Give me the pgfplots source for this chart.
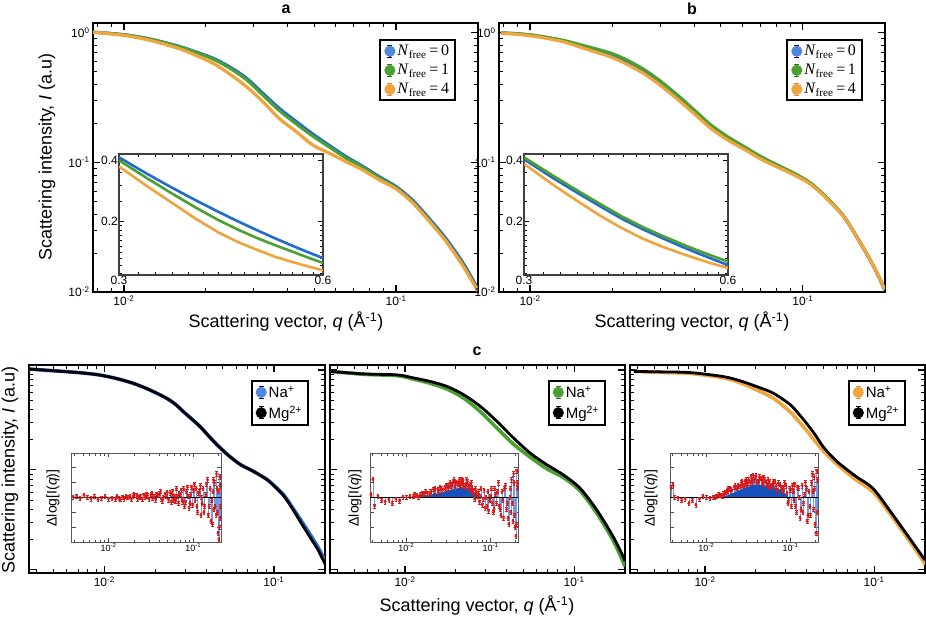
\documentclass[border=0pt]{standalone}
\usepackage{fontspec}
\setmainfont{Liberation Sans}
\newfontfamily\seriffont{Liberation Serif}
\usepackage{pgfplots}
\usepackage{pgfplotstable}
\pgfplotsset{compat=1.18}
\definecolor{cblue}{RGB}{35,105,210}
\definecolor{cgreen}{RGB}{75,160,50}
\definecolor{corange}{RGB}{240,165,60}
\definecolor{cred}{RGB}{220,25,25}
\definecolor{cfill}{RGB}{20,80,190}
\definecolor{ccomb}{RGB}{110,155,225}

\pgfplotstableread{
q r
0.0038 0.02
0.0042 0.05
0.0046 -0.03
0.0051 0.08
0.0056 0.0
0.0062 -0.04
0.0068 0.03
0.0075 -0.06
0.0083 -0.02
0.0091 0.04
0.010 -0.05
0.011 -0.03
0.0121 -0.06
0.0125 0.04
0.0133 -0.02
0.0138 -0.07
0.0147 0.02
0.0152 -0.04
0.0161 0.05
0.0168 0.0
0.0178 0.03
0.0185 -0.05
0.0195 0.06
0.02 0.1
0.0215 0.08
0.022 -0.04
0.023 0.02
0.0237 0.05
0.025 -0.06
0.026 0.09
0.027 0.0
0.028 0.12
0.0287 0.06
0.030 -0.05
0.0316 0.1
0.0325 0.15
0.033 -0.03
0.0348 0.04
0.036 -0.08
0.037 0.12
0.0383 0.08
0.04 0.14
0.041 0.2
0.0421 -0.05
0.043 -0.12
0.044 0.0
0.0464 0.12
0.048 0.05
0.049 0.18
0.051 -0.08
0.053 0.16
0.055 -0.15
0.0562 0.1
0.057 0.22
0.058 -0.1
0.06 0.05
0.0619 -0.12
0.063 0.3
0.065 0.05
0.067 -0.2
0.068 0.15
0.07 0.1
0.072 0.25
0.074 -0.05
0.075 -0.15
0.077 0.3
0.079 -0.3
0.081 -0.15
0.0825 0.2
0.085 0.35
0.087 0.05
0.089 -0.35
0.091 -0.2
0.093 0.1
0.095 0.35
0.098 -0.25
0.1 0.25
0.103 0.45
0.105 -0.1
0.108 0.3
0.11 -0.3
0.112 -0.5
0.115 0.15
0.118 0.2
0.121 0.4
0.123 -0.6
0.125 0.0
0.127 -0.2
0.13 0.3
0.133 -0.5
0.136 -0.3
0.14 0.1
0.143 0.45
0.147 0.6
0.15 -0.6
0.154 -0.3
0.158 0.3
0.161 -0.8
0.165 -0.1
0.168 -0.9
0.17 0.2
0.172 0.6
0.175 -0.4
0.178 0.5
0.181 -0.3
0.186 -0.6
0.188 0.8
0.19 0.3
0.193 -0.5
0.195 -1.2
0.198 0.2
0.2 -1.4
0.203 -1.0
0.205 0.7
0.206 0.4
0.208 -0.7
0.21 -0.3
}\resA

\pgfplotstableread{
q r
0.0038 0.1
0.004 0.6
0.0042 -0.28
0.0046 0.05
0.0051 -0.1
0.0056 -0.15
0.0062 -0.08
0.0068 -0.2
0.0075 -0.05
0.0083 -0.12
0.0091 0.02
0.010 0.0
0.011 0.05
0.0121 0.03
0.0125 0.1
0.0133 0.08
0.014 0.02
0.0147 0.1
0.0155 0.15
0.0161 0.12
0.017 0.2
0.0178 0.15
0.019 0.12
0.0195 0.2
0.021 0.28
0.0215 0.22
0.022 0.3
0.0237 0.28
0.024 0.18
0.025 0.35
0.026 0.3
0.027 0.25
0.0287 0.35
0.029 0.28
0.030 0.42
0.0315 0.3
0.0316 0.42
0.033 0.5
0.034 0.38
0.0348 0.45
0.036 0.55
0.037 0.6
0.038 0.35
0.0383 0.5
0.040 0.48
0.042 0.4
0.0421 0.55
0.043 0.6
0.044 0.42
0.045 0.62
0.0464 0.5
0.047 0.58
0.048 0.4
0.05 0.35
0.051 0.45
0.052 0.6
0.053 0.55
0.055 0.38
0.0562 0.3
0.057 0.25
0.058 0.45
0.059 0.5
0.06 0.3
0.0619 0.15
0.063 0.25
0.065 -0.05
0.066 0.3
0.068 0.15
0.07 0.05
0.072 0.2
0.074 -0.15
0.075 0.05
0.077 0.3
0.08 -0.25
0.0825 -0.05
0.084 0.25
0.086 -0.35
0.088 0.0
0.091 -0.3
0.093 0.2
0.095 -0.45
0.098 -0.1
0.1 0.05
0.102 0.3
0.105 -0.2
0.108 -0.5
0.11 -0.4
0.112 0.3
0.115 0.1
0.118 -0.2
0.121 0.2
0.124 0.5
0.127 -0.3
0.13 -0.4
0.133 -0.6
0.137 0.2
0.14 -0.1
0.143 -0.7
0.147 0.3
0.15 0.4
0.155 -0.4
0.158 -0.2
0.161 -0.7
0.165 -0.9
0.17 0.0
0.172 0.3
0.175 -0.5
0.178 0.6
0.181 -0.2
0.185 -0.8
0.188 0.8
0.19 0.5
0.193 -0.6
0.195 -1.0
0.2 -1.3
0.203 -0.9
0.205 0.9
0.208 0.3
0.21 0.5
}\resB

\pgfplotstableread{
q r
0.0038 0.35
0.004 0.4
0.0042 0.0
0.0046 -0.02
0.0051 -0.1
0.0056 -0.05
0.0062 -0.2
0.0068 -0.1
0.0075 -0.25
0.0083 -0.05
0.0091 0.05
0.010 0.0
0.011 -0.02
0.0121 0.02
0.0125 0.0
0.0133 0.05
0.014 0.1
0.0147 0.08
0.0155 0.05
0.0161 0.15
0.0168 0.18
0.0178 0.2
0.018 0.3
0.019 0.32
0.0195 0.28
0.02 0.22
0.0215 0.35
0.022 0.4
0.023 0.3
0.0237 0.4
0.025 0.38
0.026 0.5
0.0265 0.55
0.027 0.42
0.028 0.4
0.0287 0.55
0.0295 0.6
0.03 0.45
0.031 0.5
0.0316 0.6
0.033 0.5
0.034 0.72
0.0348 0.62
0.035 0.5
0.036 0.75
0.037 0.6
0.0383 0.68
0.039 0.75
0.04 0.55
0.041 0.5
0.0421 0.6
0.043 0.7
0.045 0.65
0.0464 0.55
0.047 0.45
0.048 0.68
0.049 0.62
0.051 0.5
0.053 0.45
0.054 0.6
0.055 0.35
0.0562 0.55
0.058 0.4
0.06 0.4
0.0619 0.45
0.063 0.55
0.065 0.55
0.067 0.3
0.068 0.4
0.07 0.25
0.072 0.5
0.075 0.45
0.078 0.35
0.081 0.2
0.0825 0.3
0.085 0.5
0.088 0.4
0.091 0.15
0.093 -0.2
0.095 -0.1
0.098 0.3
0.1 0.25
0.102 -0.3
0.105 0.4
0.108 0.2
0.11 -0.1
0.112 0.45
0.115 -0.3
0.118 -0.5
0.121 0.35
0.124 0.3
0.127 0.0
0.13 -0.7
0.133 -0.4
0.137 0.4
0.14 -0.5
0.143 -0.2
0.147 0.1
0.15 0.5
0.155 0.3
0.158 -0.8
0.161 -0.6
0.165 0.2
0.17 -0.3
0.172 -0.6
0.178 0.5
0.181 0.8
0.185 0.2
0.188 -0.4
0.19 0.7
0.193 0.3
0.195 -0.9
0.2 -1.2
0.203 -1.2
0.205 0.9
0.208 -0.5
0.21 0.6
}\resC

\pgfplotsset{
  mainax/.style={scale only axis,
    axis line style={line width=2.4pt},
    tick align=inside, major tick length=7pt, minor tick length=4pt,
    tick style={black, line width=1.2pt}, minor tick style={line width=0.9pt},
    tick label style={font=\fontsize{12}{12}\selectfont},
    legend cell align=left},
  inax/.style={scale only axis, width=204pt, height=121pt,
    xmin=0.3, xmax=0.6, ymin=0.108, ymax=0.43,
    xtick={0.3,0.6}, xticklabels={0.3,0.6},
    minor xtick={0.32,0.34,0.36,0.38,0.4,0.42,0.44,0.46,0.48,0.5,0.52,0.54,0.56,0.58},
    ytick={0.2,0.4}, yticklabels={0.2,0.4},
    minor ytick={0.11,0.12,0.13,0.14,0.15,0.16,0.17,0.18,0.19,0.25,0.3,0.35},
    tick align=inside, major tick length=5pt, minor tick length=3pt,
    tick style={line width=0.8pt, black},
    axis line style={line width=1.3pt, black!75},
    axis background/.style={fill=white},
    tick label style={font=\fontsize{12}{12}\selectfont, inner sep=1pt}},
  resax/.style={scale only axis, width=149pt, height=89pt,
    xmin=0.0037, xmax=0.212, ymin=-1.5, ymax=1.5,
    xtick={0.01,0.1}, xticklabels={10\textsuperscript{-2},10\textsuperscript{-1}},
    minor xtick={0.004,0.005,0.006,0.007,0.008,0.009,0.02,0.03,0.04,0.05,0.06,0.07,0.08,0.09,0.2},
    ytick={-1,-0.5,0,0.5,1}, yticklabels={},
    tick align=inside, major tick length=4pt, minor tick length=2.5pt,
    tick style={line width=0.8pt, black!70},
    axis line style={line width=1pt, black!65},
    axis background/.style={fill=white},
    tick label style={font=\fontsize{9}{9}\selectfont, inner sep=1pt}},
  cax/.style={mainax, width=295pt, height=208pt,
    xmin=0.0036, xmax=0.2, ymin=0.0093, ymax=1.12,
    xtick={0.01,0.1}, xticklabels={10\textsuperscript{-2},10\textsuperscript{-1}},
    minor xtick={0.004,0.005,0.006,0.007,0.008,0.009,0.02,0.03,0.04,0.05,0.06,0.07,0.08,0.09},
    ytick={0.01,0.1,1}, yticklabels={},
    minor ytick={0.02,0.03,0.04,0.05,0.06,0.07,0.08,0.09,0.2,0.3,0.4,0.5,0.6,0.7,0.8,0.9}},
  abax/.style={mainax, height=269pt,
    xmin=0.0077, xmax=0.2, ymin=0.01, ymax=1.19,
    xtick={0.01,0.1}, xticklabels={10\textsuperscript{-2},10\textsuperscript{-1}},
    minor xtick={0.008,0.009,0.02,0.03,0.04,0.05,0.06,0.07,0.08,0.09},
    ytick={0.01,0.1,1}, yticklabels={10\textsuperscript{-2},10\textsuperscript{-1},10\textsuperscript{0}},
    minor ytick={0.02,0.03,0.04,0.05,0.06,0.07,0.08,0.09,0.2,0.3,0.4,0.5,0.6,0.7,0.8,0.9}},
}
\newcommand{\legimg}[2]{\addlegendimage{legend image code/.code={
  \draw[line width=1.3pt,#2] (6pt,-6pt)--(6pt,6pt) (3.5pt,-6pt)--(8.5pt,-6pt) (3.5pt,6pt)--(8.5pt,6pt);
  \fill[#1] (6pt,0pt) circle (4.5pt);}}}
\newcommand{\nf}[1]{{\seriffont\textit{N}\textsubscript{free}\,=\,#1}}

\begin{document}
\begin{tikzpicture}
\useasboundingbox (0pt,0pt) rectangle (926pt,619pt);

% ---------------- panel a
\begin{axis}[xmode=log, ymode=log, abax, at={(93pt,596pt)}, anchor=north west, width=385pt,
  legend style={draw=black, line width=2pt, inner xsep=4pt, inner ysep=3pt, row sep=3pt, font=\fontsize{16}{16}\selectfont, at={(0.943,0.94)}, anchor=north east}]
\legimg{cblue!80}{blue!60!black}\addlegendentry{\nf{0}}
\legimg{cgreen}{cgreen!70!black}\addlegendentry{\nf{1}}
\legimg{corange}{corange!80!red}\addlegendentry{\nf{4}}
\addplot[cblue, line width=3.2pt, smooth, forget plot] coordinates {
(0.00769,1.012)(0.00891,0.989)(0.01,0.966)(0.01122,0.933)(0.01259,0.891)(0.01413,0.841)(0.01603,0.783)(0.01841,0.711)(0.02123,0.637)(0.02455,0.543)(0.02818,0.447)(0.03236,0.342)(0.03715,0.262)(0.04295,0.2065)(0.04932,0.166)(0.05689,0.1349)(0.06546,0.1109)(0.07534,0.0933)(0.0867,0.0776)(0.1,0.065)(0.1148,0.0513)(0.1318,0.0372)(0.1521,0.026)(0.175,0.01714)(0.1932,0.012)(0.1995,0.01047)};
\addplot[cgreen, line width=3pt, smooth, forget plot] coordinates {
(0.00769,1.012)(0.01,0.966)(0.01259,0.891)(0.01603,0.78)(0.01841,0.705)(0.02123,0.627)(0.02455,0.531)(0.02818,0.435)(0.03236,0.331)(0.03715,0.252)(0.04295,0.198)(0.04932,0.16)(0.05689,0.131)(0.06546,0.108)(0.07534,0.0918)(0.0867,0.0762)(0.1,0.0638)(0.1148,0.0501)(0.1318,0.0363)(0.1521,0.0251)(0.175,0.0166)(0.1932,0.0116)(0.1995,0.0102)};
\addplot[corange, line width=3.2pt, smooth, forget plot] coordinates {
(0.00769,1.012)(0.01,0.955)(0.01259,0.871)(0.01603,0.7516)(0.01841,0.668)(0.02123,0.583)(0.02455,0.4786)(0.02818,0.3846)(0.03236,0.2951)(0.03715,0.2188)(0.04295,0.173)(0.04932,0.1365)(0.05689,0.1178)(0.06546,0.1014)(0.07534,0.0875)(0.0867,0.0733)(0.1,0.0624)(0.1148,0.049)(0.1318,0.0355)(0.1521,0.0248)(0.175,0.0162)(0.1932,0.01148)(0.1995,0.01023)};
\end{axis}

\begin{axis}[xmode=log, ymode=log, inax, at={(119pt,465pt)}, anchor=north west]
\addplot[cblue, line width=2.6pt] coordinates {(0.3,0.414)(0.33,0.343)(0.36,0.2915)(0.39,0.2527)(0.42,0.2227)(0.45,0.1989)(0.48,0.1798)(0.51,0.1641)(0.54,0.1511)(0.57,0.1402)(0.6,0.131)};
\addplot[cgreen, line width=2.6pt] coordinates {(0.3,0.400)(0.33,0.326)(0.36,0.2726)(0.39,0.2325)(0.42,0.2027)(0.45,0.181)(0.48,0.1645)(0.51,0.1518)(0.54,0.1413)(0.57,0.1318)(0.6,0.124)};
\addplot[corange, line width=2.6pt] coordinates {(0.3,0.373)(0.33,0.298)(0.36,0.245)(0.39,0.2047)(0.42,0.176)(0.45,0.157)(0.48,0.1438)(0.51,0.1329)(0.54,0.1254)(0.57,0.1192)(0.6,0.114)};
\end{axis}

% ---------------- panel b
\begin{axis}[xmode=log, ymode=log, abax, at={(499pt,596pt)}, anchor=north west, width=386pt,
  legend style={draw=black, line width=2pt, inner xsep=4pt, inner ysep=3pt, row sep=3pt, font=\fontsize{16}{16}\selectfont, at={(0.943,0.94)}, anchor=north east}]
\legimg{cblue!80}{blue!60!black}\addlegendentry{\nf{0}}
\legimg{cgreen}{cgreen!70!black}\addlegendentry{\nf{1}}
\legimg{corange}{corange!80!red}\addlegendentry{\nf{4}}
\addplot[cblue, line width=3.2pt, smooth, forget plot] coordinates {
(0.00783,1.0)(0.01,0.962)(0.013,0.875)(0.01585,0.782)(0.01982,0.68)(0.02291,0.595)(0.0263,0.505)(0.0302,0.41)(0.03467,0.323)(0.04,0.248)(0.046,0.19)(0.053,0.155)(0.061,0.13)(0.0702,0.109)(0.0807,0.094)(0.0929,0.0815)(0.1069,0.0683)(0.123,0.0524)(0.1416,0.0378)(0.163,0.0235)(0.182,0.0156)(0.1995,0.0104)};
\addplot[cgreen, line width=3pt, smooth, forget plot] coordinates {
(0.00783,1.0)(0.01,0.966)(0.013,0.883)(0.01585,0.794)(0.01982,0.697)(0.02291,0.61)(0.0263,0.518)(0.0302,0.421)(0.03467,0.332)(0.04,0.254)(0.046,0.195)(0.053,0.158)(0.061,0.1324)(0.0702,0.111)(0.0807,0.0955)(0.0929,0.0826)(0.1069,0.0692)(0.123,0.053)(0.1416,0.0382)(0.163,0.0238)(0.182,0.0158)(0.1995,0.0106)};
\addplot[corange, line width=3.2pt, smooth, forget plot] coordinates {
(0.00783,0.995)(0.01,0.95)(0.013,0.86)(0.01585,0.755)(0.01982,0.65)(0.02291,0.565)(0.0263,0.48)(0.0302,0.39)(0.03467,0.308)(0.04,0.237)(0.046,0.183)(0.053,0.149)(0.061,0.126)(0.0702,0.106)(0.0807,0.092)(0.0929,0.08)(0.1069,0.0675)(0.123,0.052)(0.1416,0.0376)(0.163,0.0236)(0.182,0.0157)(0.1995,0.0105)};
\end{axis}

\begin{axis}[xmode=log, ymode=log, inax, at={(524pt,465pt)}, anchor=north west]
\addplot[cblue, line width=2.6pt] coordinates {(0.3,0.405)(0.33,0.329)(0.36,0.2755)(0.39,0.235)(0.42,0.2038)(0.45,0.1816)(0.48,0.1645)(0.51,0.1505)(0.54,0.139)(0.57,0.1293)(0.6,0.121)};
\addplot[cgreen, line width=2.6pt] coordinates {(0.3,0.414)(0.33,0.338)(0.36,0.2828)(0.39,0.2413)(0.42,0.2093)(0.45,0.1862)(0.48,0.169)(0.51,0.155)(0.54,0.1435)(0.57,0.1339)(0.6,0.126)};
\addplot[corange, line width=2.6pt] coordinates {(0.3,0.385)(0.33,0.305)(0.36,0.2507)(0.39,0.211)(0.42,0.1831)(0.45,0.1631)(0.48,0.1492)(0.51,0.1387)(0.54,0.13)(0.57,0.1227)(0.6,0.117)};
\end{axis}

% ---------------- panel c1
\begin{axis}[xmode=log, ymode=log, cax, at={(29pt,254pt)}, anchor=north west, width=296pt,
  legend style={draw=black, line width=2pt, inner xsep=4pt, inner ysep=3pt, row sep=3pt, font=\fontsize{15}{15}\selectfont, at={(0.946,0.928)}, anchor=north east}]
\legimg{cblue!80}{blue!60!black}\addlegendentry{Na\textsuperscript{+}}
\legimg{black}{black}\addlegendentry{Mg\textsuperscript{2+}}
\addplot[cblue, line width=3.6pt, smooth, forget plot] coordinates {
(0.00355,1.023)(0.00468,0.989)(0.00592,0.962)(0.00741,0.933)(0.00933,0.891)(0.01175,0.822)(0.01476,0.736)(0.01854,0.631)(0.02328,0.521)(0.0263,0.452)(0.02924,0.383)(0.03273,0.3236)(0.03673,0.271)(0.04121,0.2188)(0.04624,0.178)(0.05188,0.148)(0.05808,0.126)(0.06457,0.111)(0.07295,0.1)(0.08128,0.0902)(0.09162,0.0794)(0.1023,0.0675)(0.1151,0.0552)(0.1288,0.0418)(0.1449,0.031)(0.1622,0.023)(0.182,0.0168)(0.2042,0.0115)};
\addplot[black, line width=2.8pt, smooth, forget plot] coordinates {
(0.00355,1.023)(0.00468,0.989)(0.00592,0.962)(0.00741,0.933)(0.00933,0.891)(0.01175,0.822)(0.01476,0.736)(0.01854,0.631)(0.02328,0.521)(0.0263,0.452)(0.02924,0.383)(0.03273,0.3236)(0.03673,0.271)(0.04121,0.2188)(0.04624,0.178)(0.05188,0.148)(0.05808,0.126)(0.06457,0.111)(0.07295,0.1)(0.08128,0.0902)(0.09162,0.0794)(0.1023,0.0668)(0.1151,0.0541)(0.1288,0.0407)(0.1449,0.0293)(0.1622,0.0216)(0.182,0.0158)(0.2042,0.0107)};
\end{axis}
\begin{axis}[xmode=log, resax, at={(72pt,166pt)}, anchor=north west]
\addplot[ycomb, ccomb, line width=0.6pt] table {\resA};
\addplot[black, line width=0.9pt] coordinates {(0.0037,0)(0.212,0)};
\addplot[only marks, mark=*, mark size=1.3pt, cred, error bars/.cd, y dir=both, y fixed=0.07, error bar style={cred, line width=0.5pt}] table {\resA};
\end{axis}

% ---------------- panel c2
\begin{axis}[xmode=log, ymode=log, cax, at={(330pt,254pt)}, anchor=north west,
  legend style={draw=black, line width=2pt, inner xsep=4pt, inner ysep=3pt, row sep=3pt, font=\fontsize{15}{15}\selectfont, at={(0.936,0.928)}, anchor=north east}]
\legimg{cgreen}{cgreen!70!black}\addlegendentry{Na\textsuperscript{+}}
\legimg{black}{black}\addlegendentry{Mg\textsuperscript{2+}}
\addplot[cgreen, line width=3.6pt, smooth, forget plot] coordinates {
(0.00363,0.966)(0.00575,0.904)(0.00906,0.875)(0.01122,0.809)(0.01422,0.7316)(0.01782,0.641)(0.02234,0.519)(0.028,0.38)(0.03508,0.261)(0.04395,0.18)(0.05508,0.134)(0.06918,0.1023)(0.0865,0.0838)(0.1084,0.0617)(0.1361,0.037)(0.1702,0.0197)(0.195,0.012)(0.2,0.0108)};
\addplot[black, line width=2.8pt, smooth, forget plot] coordinates {
(0.00363,0.966)(0.00575,0.912)(0.00906,0.891)(0.01122,0.832)(0.01422,0.764)(0.01782,0.681)(0.02234,0.562)(0.028,0.4295)(0.03508,0.304)(0.04395,0.2075)(0.05508,0.1469)(0.06918,0.1122)(0.0865,0.0891)(0.1084,0.0656)(0.1361,0.0398)(0.1702,0.0215)(0.195,0.0136)(0.2,0.0122)};
\end{axis}
\begin{axis}[xmode=log, resax, at={(370pt,166pt)}, anchor=north west, width=148pt]
\addplot[ycomb, ccomb, line width=0.6pt] table {\resB};
\addplot[fill=cfill, draw=cfill, line width=0.3pt] coordinates {(0.0125,0)(0.015,0.04)(0.02,0.1)(0.025,0.15)(0.03,0.2)(0.035,0.26)(0.04,0.3)(0.045,0.33)(0.05,0.32)(0.055,0.28)(0.06,0.22)(0.065,0.15)(0.07,0.08)(0.08,0)} \closedcycle;
\addplot[black, line width=0.9pt] coordinates {(0.0037,0)(0.212,0)};
\addplot[only marks, mark=*, mark size=1.3pt, cred, error bars/.cd, y dir=both, y fixed=0.07, error bar style={cred, line width=0.5pt}] table {\resB};
\end{axis}

% ---------------- panel c3
\begin{axis}[xmode=log, ymode=log, cax, at={(630pt,254pt)}, anchor=north west,
  legend style={draw=black, line width=2pt, inner xsep=4pt, inner ysep=3pt, row sep=3pt, font=\fontsize{15}{15}\selectfont, at={(0.936,0.928)}, anchor=north east}]
\legimg{corange}{corange!80!red}\addlegendentry{Na\textsuperscript{+}}
\legimg{black}{black}\addlegendentry{Mg\textsuperscript{2+}}
\addplot[corange, line width=3.6pt, smooth, forget plot] coordinates {
(0.0038,0.966)(0.00562,0.944)(0.0082,0.923)(0.01288,0.832)(0.01622,0.741)(0.02023,0.631)(0.02535,0.521)(0.03177,0.383)(0.03548,0.312)(0.03981,0.249)(0.04467,0.195)(0.04989,0.156)(0.05623,0.127)(0.06252,0.108)(0.07834,0.0794)(0.09817,0.0607)(0.123,0.0372)(0.1542,0.0219)(0.1932,0.0126)(0.2,0.0112)};
\addplot[black, line width=2.8pt, smooth, forget plot] coordinates {
(0.0038,0.966)(0.00562,0.955)(0.0082,0.94)(0.01288,0.857)(0.01622,0.776)(0.02023,0.681)(0.02535,0.585)(0.03177,0.452)(0.03548,0.37)(0.03981,0.293)(0.04467,0.226)(0.04989,0.171)(0.05623,0.136)(0.06252,0.115)(0.07834,0.0857)(0.09817,0.0656)(0.123,0.0398)(0.1542,0.0233)(0.1932,0.0136)(0.2,0.0125)};
\end{axis}
\begin{axis}[xmode=log, resax, at={(670pt,166pt)}, anchor=north west, width=148pt]
\addplot[ycomb, ccomb, line width=0.6pt] table {\resC};
\addplot[fill=cfill, draw=cfill, line width=0.3pt] coordinates {(0.0145,0)(0.017,0.05)(0.02,0.12)(0.025,0.25)(0.03,0.33)(0.035,0.4)(0.04,0.43)(0.045,0.42)(0.05,0.38)(0.06,0.35)(0.07,0.3)(0.08,0.22)(0.09,0.08)(0.095,0)} \closedcycle;
\addplot[black, line width=0.9pt] coordinates {(0.0037,0)(0.212,0)};
\addplot[only marks, mark=*, mark size=1.3pt, cred, error bars/.cd, y dir=both, y fixed=0.07, error bar style={cred, line width=0.5pt}] table {\resC};
\end{axis}

% ---------------- texts
\node[font=\bfseries\fontsize{16}{16}\selectfont] at (286pt,610pt) {a};
\node[font=\bfseries\fontsize{16}{16}\selectfont] at (692pt,610pt) {b};
\node[font=\bfseries\fontsize{16}{16}\selectfont] at (477pt,268pt) {c};
\node[font=\fontsize{18}{18}\selectfont] at (286pt,297pt) {Scattering vector, \textit{q} (Å\textsuperscript{-1})};
\node[font=\fontsize{18}{18}\selectfont] at (692pt,297pt) {Scattering vector, \textit{q} (Å\textsuperscript{-1})};
\node[font=\fontsize{18}{18}\selectfont] at (477pt,13pt) {Scattering vector, \textit{q} (Å\textsuperscript{-1})};
\node[font=\fontsize{18}{18}\selectfont, rotate=90] at (47pt,462pt) {Scattering intensity, \textit{I} (a.u)};
\node[font=\fontsize{18}{18}\selectfont, rotate=90] at (10pt,149pt) {Scattering intensity, \textit{I} (a.u)};
\node[font=\fontsize{14}{14}\selectfont, rotate=90] at (53pt,121pt) {Δlog[I(\textit{q})]};
\node[font=\fontsize{14}{14}\selectfont, rotate=90] at (355pt,121pt) {Δlog[I(\textit{q})]};
\node[font=\fontsize{14}{14}\selectfont, rotate=90] at (651pt,121pt) {Δlog[I(\textit{q})]};
\end{tikzpicture}
\end{document}
